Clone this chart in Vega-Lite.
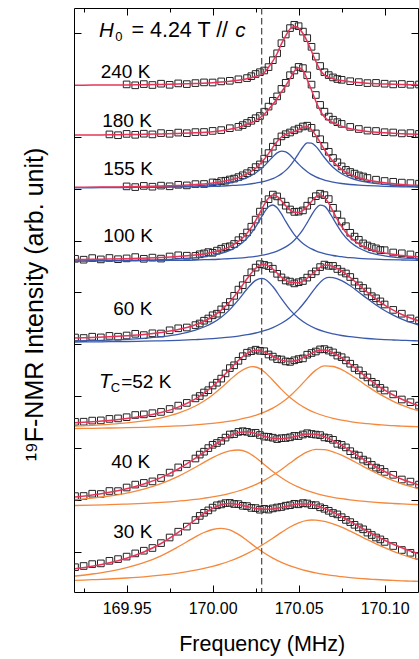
{
"$schema":"https://vega.github.io/schema/vega-lite/v6.json",
"width":344,"height":584,
"autosize":{"type":"none"},
"padding":{"left":74,"top":8,"right":1,"bottom":67},
"background":"white",
"config":{"view":{"stroke":"#000","strokeWidth":1},"font":"Liberation Sans","axis":{"labelFont":"Liberation Sans","titleFont":"Liberation Sans"}},
"datasets":{
"spec":[
{"s":"240","f":169.92,"r":506.8},{"s":"240","f":169.93,"r":506.9},{"s":"240","f":169.94,"r":507.0},
{"s":"240","f":169.95,"r":507.1,"d":507.6},{"s":"240","f":169.955,"d":506.7},{"s":"240","f":169.96,"r":507.2,"d":507.9},{"s":"240","f":169.965,"d":507.0},
{"s":"240","f":169.97,"r":507.5,"d":508.3},{"s":"240","f":169.975,"d":507.2},{"s":"240","f":169.98,"r":507.9,"d":508.6},{"s":"240","f":169.985,"d":507.9},
{"s":"240","f":169.99,"r":508.5,"d":508.9},{"s":"240","f":169.995,"d":509.6},{"s":"240","f":170.0,"r":509.3,"d":509.5},{"s":"240","f":170.005,"r":509.9,"d":510.6},
{"s":"240","f":170.01,"r":510.7,"d":511.2},{"s":"240","f":170.015,"r":511.8,"d":512.7},{"s":"240","f":170.02,"r":513.3,"d":513.9},{"s":"240","f":170.0225,"d":515.8},
{"s":"240","f":170.025,"r":515.5,"d":518.0},{"s":"240","f":170.0275,"d":519.8},{"s":"240","f":170.03,"r":519.3,"d":521.5},{"s":"240","f":170.0325,"r":524.8,"d":524.9},
{"s":"240","f":170.035,"r":530.9,"d":531.8},{"s":"240","f":170.0375,"r":538.5,"d":538.7},{"s":"240","f":170.04,"r":548.1,"d":548.8},{"s":"240","f":170.0425,"r":556.4,"d":557.5},
{"s":"240","f":170.045,"r":563.0,"d":563.9},{"s":"240","f":170.0475,"r":565.4,"d":567.2},{"s":"240","f":170.0481,"r":565.5},{"s":"240","f":170.05,"r":563.8,"d":565.8},
{"s":"240","f":170.0525,"r":558.5,"d":560.4},{"s":"240","f":170.055,"r":550.7,"d":553.9},{"s":"240","f":170.0575,"r":540.7,"d":545.2},{"s":"240","f":170.06,"r":530.7,"d":535.4},
{"s":"240","f":170.0625,"r":522.0,"d":526.0},{"s":"240","f":170.065,"r":516.9,"d":519.8},{"s":"240","f":170.0675,"d":516.9},{"s":"240","f":170.07,"r":513.3,"d":514.6},
{"s":"240","f":170.0725,"d":513.0},{"s":"240","f":170.075,"r":511.4,"d":512.2},{"s":"240","f":170.08,"r":510.3,"d":510.8},{"s":"240","f":170.085,"r":509.4,"d":509.9},
{"s":"240","f":170.09,"r":508.8,"d":508.9},{"s":"240","f":170.095,"d":509.1},{"s":"240","f":170.1,"r":508.0,"d":508.3},{"s":"240","f":170.105,"d":507.6},
{"s":"240","f":170.11,"r":507.4,"d":508.0},{"s":"240","f":170.115,"d":507.3},{"s":"240","f":170.12,"r":507.1,"d":507.5},

{"s":"180","f":169.92,"r":456.9},{"s":"180","f":169.93,"r":457.0},{"s":"180","f":169.94,"r":457.2,"d":457.6},{"s":"180","f":169.945,"d":456.8},
{"s":"180","f":169.95,"r":457.4,"d":458.1},{"s":"180","f":169.955,"d":457.2},{"s":"180","f":169.96,"r":457.7,"d":458.3},{"s":"180","f":169.965,"d":457.6},
{"s":"180","f":169.97,"r":458.1,"d":458.9},{"s":"180","f":169.975,"d":458.2},{"s":"180","f":169.98,"r":458.6,"d":459.4},{"s":"180","f":169.985,"d":458.8},
{"s":"180","f":169.99,"r":459.2,"d":459.9},{"s":"180","f":169.995,"d":460.0},{"s":"180","f":170.0,"r":460.3,"d":461.1},{"s":"180","f":170.005,"r":461.3,"d":461.9},
{"s":"180","f":170.01,"r":462.7,"d":463.8},{"s":"180","f":170.015,"r":464.6,"d":465.2},{"s":"180","f":170.0175,"d":466.9},{"s":"180","f":170.02,"r":467.8,"d":469.0},
{"s":"180","f":170.0225,"d":471.2},{"s":"180","f":170.025,"r":471.3,"d":473.8},{"s":"180","f":170.0275,"d":476.0},{"s":"180","f":170.03,"r":477.7,"d":480.3},
{"s":"180","f":170.0325,"d":485.4},{"s":"180","f":170.035,"r":487.7,"d":491.2},{"s":"180","f":170.0375,"r":493.3,"d":495.6},{"s":"180","f":170.04,"r":499.9,"d":503.1},
{"s":"180","f":170.0425,"r":506.3,"d":509.2},{"s":"180","f":170.045,"r":513.4,"d":516.8},{"s":"180","f":170.0475,"r":520.8,"d":521.5},{"s":"180","f":170.05,"r":524.2,"d":525.1},
{"s":"180","f":170.0525,"r":521.8,"d":523.9},{"s":"180","f":170.055,"r":512.3,"d":516.7},{"s":"180","f":170.0575,"r":501.7,"d":507.4},{"s":"180","f":170.06,"r":490.8,"d":497.0},
{"s":"180","f":170.0625,"r":481.7,"d":487.1},{"s":"180","f":170.065,"r":475.0,"d":480.3},{"s":"180","f":170.0675,"d":475.4},{"s":"180","f":170.07,"r":469.3,"d":472.3},
{"s":"180","f":170.0725,"d":469.8},{"s":"180","f":170.075,"r":465.8,"d":468.1},{"s":"180","f":170.08,"r":463.2,"d":465.1},{"s":"180","f":170.085,"r":461.7,"d":463.0},
{"s":"180","f":170.09,"r":460.5,"d":461.4},{"s":"180","f":170.095,"d":461.0},{"s":"180","f":170.1,"r":459.2,"d":459.8},{"s":"180","f":170.105,"d":459.5},
{"s":"180","f":170.11,"r":458.3,"d":458.6},{"s":"180","f":170.115,"d":458.9},{"s":"180","f":170.12,"r":457.8,"d":458.1},

{"s":"155","f":169.92,"a":404.4,"b":404.3,"r":404.7},{"s":"155","f":169.93,"a":404.5,"b":404.3,"r":404.8},{"s":"155","f":169.94,"a":404.6,"b":404.4,"r":405.0},
{"s":"155","f":169.95,"a":404.7,"b":404.5,"r":405.2,"d":405.6},{"s":"155","f":169.955,"d":404.9},{"s":"155","f":169.96,"a":404.9,"b":404.6,"r":405.5,"d":406.1},{"s":"155","f":169.965,"d":405.3},
{"s":"155","f":169.97,"a":405.2,"b":404.7,"r":405.9,"d":406.4},{"s":"155","f":169.975,"d":405.7},{"s":"155","f":169.98,"a":405.6,"b":404.9,"r":406.5,"d":407.2},{"s":"155","f":169.985,"d":406.6},
{"s":"155","f":169.99,"a":406.2,"b":405.2,"r":407.4,"d":407.9},{"s":"155","f":169.995,"a":406.7,"b":405.4,"r":408.1,"d":408.0},{"s":"155","f":170.0,"a":407.4,"b":405.6,"r":409.0,"d":409.6},
{"s":"155","f":170.0025,"d":409.2},{"s":"155","f":170.005,"a":408.3,"b":405.9,"r":410.2,"d":410.9},{"s":"155","f":170.0075,"d":411.3},{"s":"155","f":170.01,"a":409.5,"b":406.4,"r":411.9,"d":412.5},
{"s":"155","f":170.0125,"d":413.4},{"s":"155","f":170.015,"a":411.4,"b":406.9,"r":414.4,"d":414.9},{"s":"155","f":170.0175,"d":416.7},{"s":"155","f":170.02,"a":414.4,"b":407.7,"r":418.1,"d":418.8},
{"s":"155","f":170.0225,"d":421.0},{"s":"155","f":170.025,"a":419.0,"b":408.9,"r":423.8,"d":424.9},{"s":"155","f":170.0275,"d":427.6},{"s":"155","f":170.03,"a":426.1,"b":410.6,"r":432.7,"d":433.4},
{"s":"155","f":170.0325,"a":430.6,"b":411.9,"r":438.4,"d":438.9},{"s":"155","f":170.035,"a":435.2,"b":413.4,"r":444.6,"d":445.3},{"s":"155","f":170.0375,"a":439.1,"b":415.5,"r":450.5,"d":449.9},
{"s":"155","f":170.04,"a":440.9,"b":418.1,"r":455.0,"d":455.6},{"s":"155","f":170.0425,"a":440.1,"b":421.6,"r":457.7,"d":457.8},{"s":"155","f":170.045,"a":437.0,"b":426.2,"r":459.1,"d":459.5},
{"s":"155","f":170.0475,"a":432.5,"b":431.9,"r":460.4,"d":461.7},{"s":"155","f":170.05,"a":427.9,"b":438.6,"r":462.5,"d":463.4},{"s":"155","f":170.0525,"a":423.7,"b":445.0,"r":464.8,"d":465.5},
{"s":"155","f":170.055,"a":420.2,"b":449.1,"r":465.3,"d":466.3},{"s":"155","f":170.0575,"a":417.4,"b":448.9,"r":462.3,"d":464.2},{"s":"155","f":170.06,"a":415.2,"b":445.6,"r":456.7,"d":458.6},
{"s":"155","f":170.0625,"a":413.4,"b":440.3,"r":449.6,"d":452.8},{"s":"155","f":170.065,"a":411.9,"b":434.5,"r":442.5,"d":445.9},{"s":"155","f":170.0675,"a":410.8,"b":429.3,"r":436.0,"d":440.2},
{"s":"155","f":170.07,"a":409.9,"b":424.8,"r":430.6,"d":434.0},{"s":"155","f":170.0725,"d":429.7},{"s":"155","f":170.075,"a":408.5,"b":418.2,"r":422.7,"d":425.6},{"s":"155","f":170.0775,"d":422.1},
{"s":"155","f":170.08,"a":407.5,"b":414.1,"r":417.6,"d":420.0},{"s":"155","f":170.0825,"d":418.4},{"s":"155","f":170.085,"a":406.8,"b":411.4,"r":414.3,"d":416.6},{"s":"155","f":170.0875,"d":415.5},
{"s":"155","f":170.09,"a":406.3,"b":409.7,"r":412.0,"d":414.0},{"s":"155","f":170.095,"d":412.3},{"s":"155","f":170.1,"a":405.6,"b":407.6,"r":409.2,"d":411.0},{"s":"155","f":170.105,"d":410.2},
{"s":"155","f":170.11,"a":405.2,"b":406.4,"r":407.6,"d":409.4},{"s":"155","f":170.115,"d":408.9},{"s":"155","f":170.12,"a":404.9,"b":405.8,"r":406.7,"d":408.3},

{"s":"100","f":169.92,"a":331.1,"b":330.9,"r":332.5,"d":333.2},{"s":"100","f":169.925,"d":332.3},{"s":"100","f":169.93,"a":331.3,"b":331.0,"r":332.7,"d":333.9},{"s":"100","f":169.935,"d":332.6},
{"s":"100","f":169.94,"a":331.4,"b":331.1,"r":333.0,"d":334.0},{"s":"100","f":169.945,"d":332.8},{"s":"100","f":169.95,"a":331.7,"b":331.2,"r":333.3,"d":333.6},{"s":"100","f":169.955,"d":334.9},
{"s":"100","f":169.96,"a":332.0,"b":331.3,"r":333.8,"d":333.2},{"s":"100","f":169.965,"d":334.4},{"s":"100","f":169.97,"a":332.4,"b":331.5,"r":334.4,"d":333.4},{"s":"100","f":169.975,"d":335.5},
{"s":"100","f":169.98,"a":333.2,"b":331.7,"r":335.4,"d":336.7},{"s":"100","f":169.985,"d":336.3},{"s":"100","f":169.99,"a":334.4,"b":332.0,"r":337.0,"d":336.1},{"s":"100","f":169.9925,"d":337.7},
{"s":"100","f":169.995,"a":335.4,"b":332.3,"r":338.1,"d":338.6},{"s":"100","f":169.9975,"d":339.9},{"s":"100","f":170.0,"a":336.7,"b":332.5,"r":339.8,"d":339.2},{"s":"100","f":170.0025,"d":341.4},
{"s":"100","f":170.005,"a":338.7,"b":332.9,"r":342.0,"d":343.3},{"s":"100","f":170.0075,"d":344.9},{"s":"100","f":170.01,"a":341.6,"b":333.3,"r":345.4,"d":345.7},{"s":"100","f":170.0125,"d":348.0},
{"s":"100","f":170.015,"a":346.2,"b":333.9,"r":350.6,"d":351.8},{"s":"100","f":170.0175,"d":355.0},{"s":"100","f":170.02,"a":353.6,"b":334.7,"r":358.7,"d":359.5},{"s":"100","f":170.0225,"d":365.3},
{"s":"100","f":170.025,"a":365.1,"b":335.7,"r":371.4,"d":372.4},{"s":"100","f":170.0275,"a":372.4,"b":336.4,"r":379.3,"d":380.4},{"s":"100","f":170.03,"a":379.7,"b":337.2,"r":387.4,"d":387.0},
{"s":"100","f":170.0325,"a":385.2,"b":338.2,"r":394.0,"d":392.8},{"s":"100","f":170.035,"a":387.0,"b":339.4,"r":396.9,"d":397.4},{"s":"100","f":170.0375,"a":384.2,"b":340.9,"r":395.6,"d":395.6},
{"s":"100","f":170.04,"a":378.1,"b":342.8,"r":391.3,"d":390.4},{"s":"100","f":170.0425,"a":370.6,"b":345.1,"r":386.2,"d":386.3},{"s":"100","f":170.045,"a":363.6,"b":348.0,"r":382.1,"d":382.5},
{"s":"100","f":170.0475,"a":357.4,"b":351.8,"r":379.7,"d":380.1},{"s":"100","f":170.05,"a":352.5,"b":356.6,"r":379.6,"d":380.4},{"s":"100","f":170.0525,"a":348.6,"b":362.4,"r":381.5,"d":381.6},
{"s":"100","f":170.055,"a":345.5,"b":369.4,"r":385.5,"d":386.3},{"s":"100","f":170.0575,"a":343.1,"b":376.9,"r":390.5,"d":390.9},{"s":"100","f":170.06,"a":341.2,"b":383.4,"r":395.1,"d":395.8},
{"s":"100","f":170.0625,"a":339.6,"b":386.8,"r":397.0,"d":398.3},{"s":"100","f":170.065,"a":338.4,"b":385.8,"r":394.7,"d":396.9},{"s":"100","f":170.0675,"a":337.4,"b":380.7,"r":388.6,"d":392.9},
{"s":"100","f":170.07,"a":336.5,"b":373.6,"r":380.7,"d":384.2},{"s":"100","f":170.0725,"a":335.8,"b":366.3,"r":372.6,"d":377.6},{"s":"100","f":170.075,"a":335.3,"b":359.7,"r":365.5,"d":370.5},
{"s":"100","f":170.0775,"d":365.8},{"s":"100","f":170.08,"a":334.3,"b":350.0,"r":354.9,"d":359.2},{"s":"100","f":170.0825,"d":355.4},{"s":"100","f":170.085,"a":333.6,"b":344.0,"r":348.1,"d":352.2},
{"s":"100","f":170.0875,"d":348.6},{"s":"100","f":170.09,"a":333.1,"b":340.2,"r":343.8,"d":346.5},{"s":"100","f":170.0925,"d":344.9},{"s":"100","f":170.095,"d":343.6},{"s":"100","f":170.0975,"d":342.0},
{"s":"100","f":170.1,"a":332.4,"b":336.1,"r":339.0,"d":341.8},{"s":"100","f":170.105,"d":339.5},{"s":"100","f":170.11,"a":332.0,"b":334.1,"r":336.6,"d":338.7},{"s":"100","f":170.115,"d":337.6},
{"s":"100","f":170.12,"a":331.6,"b":333.0,"r":335.1,"d":336.2},

{"s":"60","f":169.92,"a":251.0,"b":250.0,"r":253.9,"d":254.5},{"s":"60","f":169.925,"d":254.0},{"s":"60","f":169.93,"a":251.4,"b":250.1,"r":254.5,"d":255.3},{"s":"60","f":169.935,"d":254.6},
{"s":"60","f":169.94,"a":251.9,"b":250.3,"r":255.2,"d":256.1},{"s":"60","f":169.945,"d":255.3},{"s":"60","f":169.95,"a":252.6,"b":250.5,"r":256.2,"d":256.5},{"s":"60","f":169.955,"d":258.2},
{"s":"60","f":169.96,"a":253.7,"b":250.8,"r":257.5,"d":256.9},{"s":"60","f":169.965,"d":258.7},{"s":"60","f":169.97,"a":255.3,"b":251.2,"r":259.5,"d":258.5},{"s":"60","f":169.975,"d":261.7},
{"s":"60","f":169.98,"a":257.7,"b":251.7,"r":262.4,"d":263.7},{"s":"60","f":169.985,"d":264.5},{"s":"60","f":169.99,"a":261.9,"b":252.4,"r":267.2,"d":266.9},{"s":"60","f":169.9925,"d":268.5},
{"s":"60","f":169.995,"a":265.0,"b":252.8,"r":270.8,"d":271.3},{"s":"60","f":169.9975,"d":273.5},{"s":"60","f":170.0,"a":269.1,"b":253.4,"r":275.5,"d":276.7},{"s":"60","f":170.0025,"d":278.3},
{"s":"60","f":170.005,"a":274.8,"b":254.1,"r":281.9,"d":282.6},{"s":"60","f":170.0075,"d":286.0},{"s":"60","f":170.01,"a":282.4,"b":254.9,"r":290.3,"d":290.0},{"s":"60","f":170.0125,"d":296.2},
{"s":"60","f":170.015,"a":292.2,"b":255.9,"r":301.1,"d":302.4},{"s":"60","f":170.0175,"d":306.8},{"s":"60","f":170.02,"a":303.0,"b":257.3,"r":313.3,"d":313.0},{"s":"60","f":170.0225,"d":319.7},
{"s":"60","f":170.025,"a":311.6,"b":259.0,"r":323.6,"d":324.4},{"s":"60","f":170.0275,"d":327.8},{"s":"60","f":170.0285,"a":313.7,"b":260.6,"r":327.3},{"s":"60","f":170.03,"a":313.2,"b":261.3,"r":327.5,"d":327.1},
{"s":"60","f":170.0325,"d":325.9},{"s":"60","f":170.035,"a":305.5,"b":264.4,"r":322.9,"d":323.3},{"s":"60","f":170.0375,"d":318.2},{"s":"60","f":170.04,"a":293.3,"b":268.7,"r":314.9,"d":314.6},
{"s":"60","f":170.0425,"d":311.5},{"s":"60","f":170.045,"a":282.1,"b":274.5,"r":309.7,"d":310.4},{"s":"60","f":170.0475,"d":308.6},{"s":"60","f":170.05,"a":273.7,"b":282.6,"r":309.3,"d":309.8},
{"s":"60","f":170.0525,"d":311.0},{"s":"60","f":170.055,"a":267.7,"b":293.1,"r":313.8,"d":314.4},{"s":"60","f":170.0575,"d":317.9},{"s":"60","f":170.06,"a":263.4,"b":304.7,"r":321.1,"d":320.6},
{"s":"60","f":170.0625,"d":324.9},{"s":"60","f":170.065,"a":260.4,"b":313.3,"r":326.7,"d":327.4},{"s":"60","f":170.0675,"d":326.2},{"s":"60","f":170.0676,"a":259.1,"b":314.7,"r":326.8},
{"s":"60","f":170.07,"a":258.2,"b":314.4,"r":325.5,"d":326.1},{"s":"60","f":170.0725,"d":323.0},{"s":"60","f":170.075,"a":256.5,"b":311.4,"r":321.0,"d":320.4},{"s":"60","f":170.0775,"d":318.5},
{"s":"60","f":170.08,"a":255.3,"b":306.2,"r":314.5,"d":315.0},{"s":"60","f":170.0825,"d":310.3},{"s":"60","f":170.085,"a":254.3,"b":299.8,"r":307.1,"d":306.6},{"s":"60","f":170.0875,"d":304.0},
{"s":"60","f":170.09,"a":253.5,"b":293.2,"r":299.7,"d":300.5},{"s":"60","f":170.0925,"d":295.8},{"s":"60","f":170.095,"a":252.9,"b":287.0,"r":292.9,"d":293.7},{"s":"60","f":170.0975,"d":290.6},
{"s":"60","f":170.1,"a":252.4,"b":281.5,"r":286.9,"d":287.5},{"s":"60","f":170.105,"a":252.0,"b":276.8,"r":281.8,"d":282.1},{"s":"60","f":170.11,"a":251.7,"b":272.9,"r":277.5,"d":278.3},
{"s":"60","f":170.115,"a":251.4,"b":269.6,"r":274.0,"d":273.6},{"s":"60","f":170.12,"a":251.1,"b":266.9,"r":271.0,"d":271.5},

{"s":"52","f":169.92,"a":165.8,"b":163.5,"r":169.3,"d":170.2},{"s":"52","f":169.925,"d":170.3},{"s":"52","f":169.93,"a":166.6,"b":163.7,"r":170.3,"d":171.4},{"s":"52","f":169.935,"d":171.6},
{"s":"52","f":169.94,"a":167.7,"b":164.0,"r":171.6,"d":173.1},{"s":"52","f":169.945,"d":173.6},{"s":"52","f":169.95,"a":169.1,"b":164.3,"r":173.4,"d":174.8},{"s":"52","f":169.955,"d":177.0},
{"s":"52","f":169.96,"a":171.2,"b":164.7,"r":175.9,"d":177.6},{"s":"52","f":169.965,"d":178.8},{"s":"52","f":169.97,"a":174.2,"b":165.3,"r":179.5,"d":180.1},{"s":"52","f":169.975,"d":183.0},
{"s":"52","f":169.98,"a":178.8,"b":166.1,"r":184.9,"d":186.4},{"s":"52","f":169.985,"d":189.1},{"s":"52","f":169.99,"a":186.0,"b":167.1,"r":193.1,"d":193.6},{"s":"52","f":169.9925,"d":196.0},
{"s":"52","f":169.995,"a":191.0,"b":167.8,"r":198.8,"d":199.5},{"s":"52","f":169.9975,"d":201.8},{"s":"52","f":170.0,"a":197.1,"b":168.6,"r":205.7,"d":206.5},{"s":"52","f":170.0025,"d":209.3},
{"s":"52","f":170.005,"a":204.2,"b":169.6,"r":213.8,"d":213.4},{"s":"52","f":170.0075,"d":218.6},{"s":"52","f":170.01,"a":212.0,"b":170.8,"r":222.8,"d":223.9},{"s":"52","f":170.0125,"d":226.7},
{"s":"52","f":170.015,"a":219.3,"b":172.4,"r":231.6,"d":231.2},{"s":"52","f":170.0175,"d":235.8},{"s":"52","f":170.02,"a":224.2,"b":174.3,"r":238.5,"d":239.3},{"s":"52","f":170.0225,"d":240.8},
{"s":"52","f":170.0234,"a":225.3,"b":175.9,"r":241.2},{"s":"52","f":170.025,"a":225.0,"b":176.7,"r":241.7,"d":242.3},{"s":"52","f":170.0275,"d":241.2},{"s":"52","f":170.03,"a":220.3,"b":179.9,"r":240.1,"d":240.8},
{"s":"52","f":170.0325,"d":237.5},{"s":"52","f":170.035,"a":211.8,"b":183.9,"r":235.7,"d":235.4},{"s":"52","f":170.0375,"d":232.9},{"s":"52","f":170.04,"a":202.6,"b":189.2,"r":231.9,"d":232.5},
{"s":"52","f":170.0425,"d":230.6},{"s":"52","f":170.045,"a":194.5,"b":196.0,"r":230.5,"d":230.1},{"s":"52","f":170.0475,"d":231.7},{"s":"52","f":170.05,"a":188.0,"b":204.4,"r":232.3,"d":232.9},
{"s":"52","f":170.0525,"d":233.6},{"s":"52","f":170.055,"a":182.9,"b":213.6,"r":236.5,"d":237.3},{"s":"52","f":170.0575,"d":239.0},{"s":"52","f":170.06,"a":179.0,"b":221.9,"r":240.8,"d":240.5},
{"s":"52","f":170.0625,"d":242.6},{"s":"52","f":170.065,"a":176.0,"b":226.1,"r":242.1,"d":242.9},{"s":"52","f":170.0675,"d":241.4},{"s":"52","f":170.07,"a":173.7,"b":225.5,"r":239.2,"d":239.6},
{"s":"52","f":170.0725,"d":236.4},{"s":"52","f":170.075,"a":171.8,"b":222.4,"r":234.2,"d":234.8},{"s":"52","f":170.0775,"d":231.6},{"s":"52","f":170.08,"a":170.4,"b":217.5,"r":227.9,"d":228.3},
{"s":"52","f":170.0825,"d":224.0},{"s":"52","f":170.085,"a":169.2,"b":211.7,"r":221.0,"d":221.6},{"s":"52","f":170.0875,"d":217.1},{"s":"52","f":170.09,"a":168.3,"b":205.8,"r":214.1,"d":214.6},
{"s":"52","f":170.0925,"d":210.2},{"s":"52","f":170.095,"a":167.5,"b":200.1,"r":207.7,"d":208.2},{"s":"52","f":170.0975,"d":204.1},{"s":"52","f":170.1,"a":166.9,"b":195.1,"r":201.9,"d":201.5},
{"s":"52","f":170.105,"a":166.3,"b":190.7,"r":197.0,"d":197.6},{"s":"52","f":170.11,"a":165.9,"b":186.9,"r":192.8,"d":192.5},{"s":"52","f":170.115,"a":165.5,"b":183.7,"r":189.2,"d":189.8},
{"s":"52","f":170.12,"a":165.2,"b":181.0,"r":186.1,"d":186.4},

{"s":"40","f":169.92,"a":92.1,"b":86.5,"r":95.1,"d":95.9},{"s":"40","f":169.925,"d":96.0},{"s":"40","f":169.93,"a":93.8,"b":86.8,"r":97.1,"d":98.3},{"s":"40","f":169.935,"d":98.0},
{"s":"40","f":169.94,"a":96.0,"b":87.3,"r":99.8,"d":101.0},{"s":"40","f":169.945,"d":100.9},{"s":"40","f":169.95,"a":98.9,"b":87.9,"r":103.3,"d":104.5},{"s":"40","f":169.955,"d":107.4},
{"s":"40","f":169.96,"a":102.9,"b":88.6,"r":108.0,"d":109.1},{"s":"40","f":169.965,"d":110.6},{"s":"40","f":169.97,"a":108.3,"b":89.6,"r":114.4,"d":114.0},{"s":"40","f":169.975,"d":119.4},
{"s":"40","f":169.98,"a":115.6,"b":90.9,"r":123.0,"d":124.6},{"s":"40","f":169.985,"d":128.0},{"s":"40","f":169.99,"a":124.7,"b":92.6,"r":133.8,"d":133.5},{"s":"40","f":169.9925,"d":137.4},
{"s":"40","f":169.995,"a":129.6,"b":93.8,"r":139.8,"d":140.3},{"s":"40","f":169.9975,"d":143.9},{"s":"40","f":170.0,"a":134.3,"b":95.1,"r":145.9,"d":147.2},{"s":"40","f":170.0025,"d":149.0},
{"s":"40","f":170.005,"a":138.3,"b":96.7,"r":151.5,"d":151.1},{"s":"40","f":170.0075,"d":154.4},{"s":"40","f":170.01,"a":141.1,"b":98.6,"r":156.2,"d":157.5},{"s":"40","f":170.0125,"d":157.9},
{"s":"40","f":170.015,"a":142.0,"b":101.0,"r":159.5,"d":160.1},{"s":"40","f":170.0175,"d":160.8},{"s":"40","f":170.02,"a":139.9,"b":103.9,"r":160.3,"d":160.2},{"s":"40","f":170.0225,"d":158.9},
{"s":"40","f":170.025,"a":134.5,"b":107.4,"r":158.4,"d":159.2},{"s":"40","f":170.0275,"d":157.0},{"s":"40","f":170.03,"a":127.6,"b":111.6,"r":155.7,"d":155.4},{"s":"40","f":170.0325,"d":155.2},
{"s":"40","f":170.035,"a":120.5,"b":116.7,"r":153.7,"d":154.3},{"s":"40","f":170.0375,"d":152.9},{"s":"40","f":170.04,"a":114.3,"b":122.5,"r":153.3,"d":153.8},{"s":"40","f":170.0425,"d":154.0},
{"s":"40","f":170.045,"a":109.0,"b":128.9,"r":154.4,"d":154.7},{"s":"40","f":170.0475,"d":156.1},{"s":"40","f":170.05,"a":104.8,"b":135.1,"r":156.3,"d":155.9},{"s":"40","f":170.0525,"d":157.5},
{"s":"40","f":170.055,"a":101.3,"b":140.1,"r":157.9,"d":158.8},{"s":"40","f":170.0575,"d":158.0},{"s":"40","f":170.06,"a":98.6,"b":142.6,"r":157.7,"d":157.4},{"s":"40","f":170.0625,"d":156.9},
{"s":"40","f":170.065,"a":96.4,"b":142.3,"r":155.2,"d":154.6},{"s":"40","f":170.0675,"d":153.9},{"s":"40","f":170.07,"a":94.7,"b":140.2,"r":151.4,"d":152.2},{"s":"40","f":170.0725,"d":148.2},
{"s":"40","f":170.075,"a":93.3,"b":136.8,"r":146.6,"d":147.1},{"s":"40","f":170.0775,"d":144.6},{"s":"40","f":170.08,"a":92.1,"b":132.6,"r":141.2,"d":140.8},{"s":"40","f":170.0825,"d":137.5},
{"s":"40","f":170.085,"a":91.1,"b":128.0,"r":135.6,"d":136.4},{"s":"40","f":170.0875,"d":132.4},{"s":"40","f":170.09,"a":90.3,"b":123.3,"r":130.1,"d":130.6},{"s":"40","f":170.0925,"d":127.1},
{"s":"40","f":170.095,"a":89.6,"b":119.0,"r":125.0,"d":124.4},{"s":"40","f":170.0975,"d":123.0},{"s":"40","f":170.1,"a":89.0,"b":114.9,"r":120.5,"d":120.1},{"s":"40","f":170.105,"a":88.5,"b":111.4,"r":116.4,"d":117.2},
{"s":"40","f":170.11,"a":88.1,"b":108.2,"r":112.8,"d":112.5},{"s":"40","f":170.115,"a":87.7,"b":105.5,"r":109.7,"d":110.4},{"s":"40","f":170.12,"a":87.4,"b":103.1,"r":107.0,"d":107.4},

{"s":"30","f":169.92,"a":16.0,"b":11.6,"r":23.2,"d":24.8},{"s":"30","f":169.925,"d":26.0},{"s":"30","f":169.93,"a":18.0,"b":12.3,"r":25.8,"d":27.9},{"s":"30","f":169.935,"d":28.6},
{"s":"30","f":169.94,"a":20.6,"b":13.0,"r":29.2,"d":31.2},{"s":"30","f":169.945,"d":32.9},{"s":"30","f":169.95,"a":24.3,"b":14.0,"r":33.8,"d":35.4},{"s":"30","f":169.955,"d":38.6},
{"s":"30","f":169.96,"a":29.3,"b":15.2,"r":40.0,"d":41.3},{"s":"30","f":169.965,"d":44.0},{"s":"30","f":169.97,"a":36.2,"b":16.8,"r":48.5,"d":48.9},{"s":"30","f":169.975,"d":54.5},
{"s":"30","f":169.98,"a":45.2,"b":18.9,"r":59.6,"d":60.3},{"s":"30","f":169.985,"d":65.4},{"s":"30","f":169.99,"a":55.1,"b":21.8,"r":72.4,"d":72.0},{"s":"30","f":169.9925,"d":76.1},
{"s":"30","f":169.995,"a":59.5,"b":23.6,"r":78.5,"d":79.2},{"s":"30","f":169.9975,"d":81.6},{"s":"30","f":170.0,"a":62.5,"b":25.6,"r":83.7,"d":84.4},{"s":"30","f":170.0025,"d":86.7},
{"s":"30","f":170.005,"a":63.7,"b":28.1,"r":87.3,"d":87.6},{"s":"30","f":170.0075,"d":88.9},{"s":"30","f":170.01,"a":62.1,"b":31.0,"r":88.6,"d":89.1},{"s":"30","f":170.0125,"d":88.0},
{"s":"30","f":170.015,"a":57.6,"b":34.4,"r":87.5,"d":87.9},{"s":"30","f":170.0175,"d":86.2},{"s":"30","f":170.02,"a":51.5,"b":38.4,"r":85.4,"d":85.9},{"s":"30","f":170.0225,"d":84.1},
{"s":"30","f":170.025,"a":45.0,"b":43.0,"r":83.5,"d":83.9},{"s":"30","f":170.0275,"d":82.3},{"s":"30","f":170.03,"a":39.0,"b":48.2,"r":82.7,"d":83.2},{"s":"30","f":170.0325,"d":82.4},
{"s":"30","f":170.035,"a":33.9,"b":53.8,"r":83.1,"d":83.6},{"s":"30","f":170.0375,"d":84.5},{"s":"30","f":170.04,"a":29.6,"b":59.6,"r":84.6,"d":85.0},{"s":"30","f":170.0425,"d":86.3},
{"s":"30","f":170.045,"a":26.1,"b":65.0,"r":86.5,"d":86.8},{"s":"30","f":170.0475,"d":88.2},{"s":"30","f":170.05,"a":23.3,"b":69.2,"r":88.0,"d":87.7},{"s":"30","f":170.0525,"d":88.9},
{"s":"30","f":170.055,"a":21.0,"b":71.7,"r":88.1,"d":88.5},{"s":"30","f":170.0575,"a":20.0,"b":72.0,"r":87.5,"d":86.9},{"s":"30","f":170.06,"a":19.1,"b":71.9,"r":86.5,"d":86.8},{"s":"30","f":170.0625,"d":84.7},
{"s":"30","f":170.065,"a":17.6,"b":70.6,"r":83.6,"d":83.2},{"s":"30","f":170.0675,"d":81.2},{"s":"30","f":170.07,"a":16.3,"b":68.1,"r":79.9,"d":79.0},{"s":"30","f":170.0725,"d":77.6},
{"s":"30","f":170.075,"a":15.3,"b":64.8,"r":75.5,"d":74.8},{"s":"30","f":170.0775,"d":72.1},{"s":"30","f":170.08,"a":14.4,"b":60.8,"r":70.7,"d":69.9},{"s":"30","f":170.0825,"d":67.2},
{"s":"30","f":170.085,"a":13.6,"b":56.6,"r":65.7,"d":64.6},{"s":"30","f":170.0875,"d":62.7},{"s":"30","f":170.09,"a":13.0,"b":52.3,"r":60.8,"d":59.4},{"s":"30","f":170.0925,"d":57.0},
{"s":"30","f":170.095,"a":12.5,"b":48.2,"r":56.1,"d":54.5},{"s":"30","f":170.0975,"d":52.6},{"s":"30","f":170.1,"a":12.0,"b":44.3,"r":51.8,"d":50.1},{"s":"30","f":170.105,"a":11.6,"b":40.7,"r":47.8,"d":46.0},
{"s":"30","f":170.11,"a":11.2,"b":37.5,"r":44.2,"d":42.0},{"s":"30","f":170.115,"a":10.9,"b":34.6,"r":41.0,"d":39.2},{"s":"30","f":170.12,"a":10.6,"b":32.0,"r":38.2,"d":36.1}
],
"labels":[
{"t":"240 K","f":169.9349,"v":514},{"t":"180 K","f":169.9358,"v":465.3},{"t":"155 K","f":169.9364,"v":417},{"t":"100 K","f":169.9364,"v":350.3},
{"t":"60 K","f":169.9422,"v":277},{"t":"40 K","f":169.941,"v":123.7},{"t":"30 K","f":169.9422,"v":53.7},{"t":"=52 K","f":169.9468,"v":203.7}
],
"ann":[{"t":"= 4.24 T //","f":169.9528,"v":555.3}],
"italic":[{"t":"H","f":169.9339,"v":555.3},{"t":"c","f":170.0132,"v":555.3},{"t":"T","f":169.9339,"v":203.7}],
"sub":[{"t":"0","f":169.9434,"v":551.5},{"t":"C","f":169.9408,"v":200.5}],
"ref":[{"f":170.0285}]
},
"resolve":{"axis":{"x":"independent","y":"independent"}},
"layer":[
{"data":{"name":"spec"},
 "transform":[{"filter":"isValid(datum.d)"}],
 "mark":{"type":"point","shape":"square","filled":false,"size":44,"strokeWidth":1,"opacity":1,"clip":true},
 "encoding":{
  "x":{"field":"f","type":"quantitative","scale":{"domain":[169.9194,170.1194],"nice":false,"zero":false},
   "axis":{"orient":"bottom","values":[169.925,169.95,169.975,170,170.025,170.05,170.075,170.1],
    "labelExpr":"round(datum.value*1000)%50==0 ? format(datum.value,'.2f') : ''",
    "tickSize":{"condition":{"test":"round(datum.value*1000)%50!=0","value":-4},"value":-7},
    "labelPadding":15,"labelFontSize":16,"labelFlush":false,"labelOverlap":false,"labelColor":"#000",
    "title":"Frequency (MHz)","titleFontSize":21.5,"titleFontWeight":"normal","titleColor":"#000",
    "titleX":187.7,"titleY":58,"titleBaseline":"alphabetic","titleAlign":"center",
    "domain":false,"grid":false,"tickColor":"#000","tickWidth":1}},
  "y":{"field":"d","type":"quantitative","scale":{"domain":[0,584],"nice":false,"zero":false},
   "axis":{"orient":"left","values":[40.3,92.2,144,195.9,247.8,299.6,351.5,403.4,455.3,507.1,559],"labels":false,"tickSize":-7,
    "domain":false,"grid":false,"tickColor":"#000","tickWidth":1,
    "title":"¹⁹F-NMR Intensity (arb. unit)","titleFontSize":25,"titleFontWeight":"normal","titleColor":"#000",
    "titleX":-31.5,"titleY":296,"titleAngle":270,"titleBaseline":"alphabetic","titleAlign":"center"}},
  "color":{"value":"#222222"}
 }},
{"data":{"name":"spec"},
 "transform":[{"filter":{"field":"s","oneOf":["52","40","30"]}},{"fold":["a","b"]},{"filter":"isValid(datum.value)"}],
 "mark":{"type":"line","interpolate":"monotone","color":"#f4883c","strokeWidth":1.3,"clip":true},
 "encoding":{"x":{"field":"f","type":"quantitative","axis":null},"y":{"field":"value","type":"quantitative","axis":null},"detail":[{"field":"s"},{"field":"key"}]}},
{"data":{"name":"spec"},
 "transform":[{"filter":{"field":"s","oneOf":["155","100","60"]}},{"fold":["a","b"]},{"filter":"isValid(datum.value)"}],
 "mark":{"type":"line","interpolate":"monotone","color":"#3a59ab","strokeWidth":1.3,"clip":true},
 "encoding":{"x":{"field":"f","type":"quantitative","axis":null},"y":{"field":"value","type":"quantitative","axis":null},"detail":[{"field":"s"},{"field":"key"}]}},
{"data":{"name":"ref"},
 "mark":{"type":"rule","color":"#555555","strokeWidth":1.3,"strokeDash":[6.5,3.5]},
 "encoding":{"x":{"field":"f","type":"quantitative","axis":null}}},
{"data":{"name":"spec"},
 "transform":[{"filter":"isValid(datum.r)"}],
 "mark":{"type":"line","interpolate":"monotone","color":"#e8345a","strokeWidth":1.5,"clip":true},
 "encoding":{
  "x":{"field":"f","type":"quantitative",
   "axis":{"orient":"top","values":[169.925,169.95,169.975,170,170.025,170.05,170.075,170.1],"labels":false,
    "tickSize":{"condition":{"test":"round(datum.value*1000)%50!=0","value":-4},"value":-7},
    "domain":false,"grid":false,"title":null,"tickColor":"#000","tickWidth":1}},
  "y":{"field":"r","type":"quantitative",
   "axis":{"orient":"right","values":[40.3,92.2,144,195.9,247.8,299.6,351.5,403.4,455.3,507.1,559],"labels":false,"tickSize":-7,
    "domain":false,"grid":false,"title":null,"tickColor":"#000","tickWidth":1}},
  "detail":{"field":"s"}}},
{"data":{"name":"labels"},
 "mark":{"type":"text","align":"left","baseline":"alphabetic","fontSize":19,"font":"Liberation Sans","color":"#000"},
 "encoding":{"x":{"field":"f","type":"quantitative","axis":null},"y":{"field":"v","type":"quantitative","axis":null},"text":{"field":"t"}}},
{"data":{"name":"ann"},
 "mark":{"type":"text","align":"left","baseline":"alphabetic","fontSize":21.5,"font":"Liberation Sans","color":"#000"},
 "encoding":{"x":{"field":"f","type":"quantitative","axis":null},"y":{"field":"v","type":"quantitative","axis":null},"text":{"field":"t"}}},
{"data":{"name":"italic"},
 "mark":{"type":"text","align":"left","baseline":"alphabetic","fontSize":20.5,"fontStyle":"italic","font":"Liberation Sans","color":"#000"},
 "encoding":{"x":{"field":"f","type":"quantitative","axis":null},"y":{"field":"v","type":"quantitative","axis":null},"text":{"field":"t"}}},
{"data":{"name":"sub"},
 "mark":{"type":"text","align":"left","baseline":"alphabetic","fontSize":13,"font":"Liberation Sans","color":"#000"},
 "encoding":{"x":{"field":"f","type":"quantitative","axis":null},"y":{"field":"v","type":"quantitative","axis":null},"text":{"field":"t"}}}
]
}
